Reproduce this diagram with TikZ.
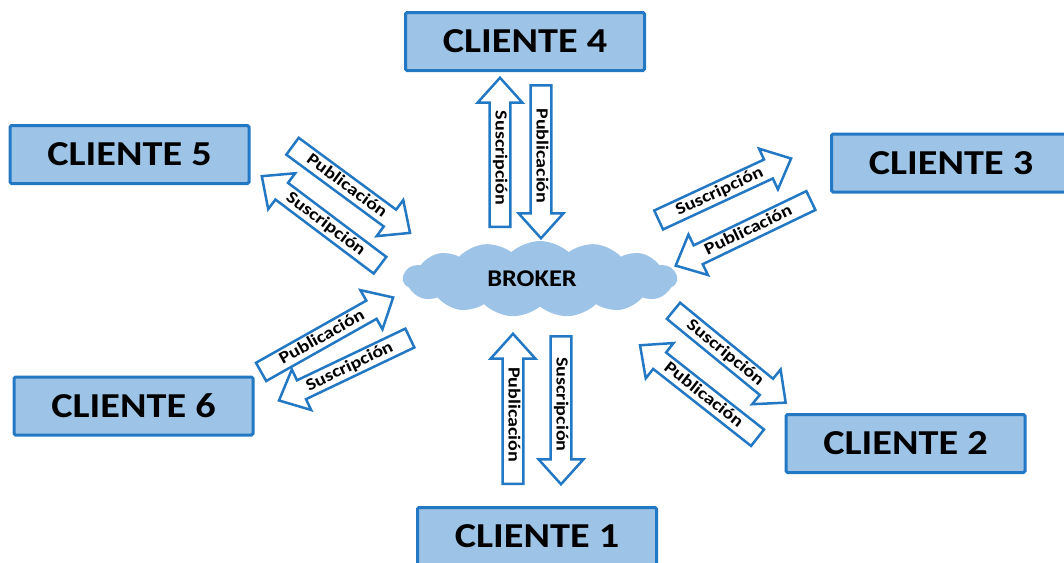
\documentclass[tikz,border=0pt]{standalone}
\usepackage{fontspec}
\setmainfont{Carlito}
\usetikzlibrary{shapes.arrows,shapes.symbols}
\definecolor{edgeblue}{HTML}{2378C4}
\definecolor{boxblue}{HTML}{9DC3E6}
\newcommand\wide[2]{\scalebox{#1}[1]{#2}}
\tikzset{
  client/.style={draw=edgeblue, fill=boxblue, line width=3pt,
    minimum width=239pt, minimum height=58pt, inner sep=0pt,
    rounded corners=1.5pt, font=\fontsize{35}{35}\selectfont\bfseries},
  flow/.style={single arrow, draw=edgeblue, fill=white, line width=2.5pt,
    single arrow head extend=12pt, single arrow tip angle=84,
    text height=12.5pt, text depth=3.5pt, inner ysep=1.2pt, inner xsep=2pt,
    anchor=tail, font=\fontsize{17}{17}\selectfont\bfseries},
  back/.style={shape border rotate=180},
}
\newcommand\pub{\wide{1.18}{Publicación}}
\newcommand\sus{\wide{1.18}{Suscripción}}
\begin{document}
\begin{tikzpicture}[x=1pt, y=-1pt]
  \useasboundingbox (0,0) rectangle (1064,562);

  % central broker
  \node[cloud, cloud puffs=15, cloud puff arc=85, aspect=3.6,
        fill=boxblue, minimum width=274pt, minimum height=76pt, inner sep=0pt,
        font=\fontsize{24}{24}\selectfont\bfseries]
        (broker) at (540,279) {\wide{1.1}{BROKER}\hspace*{16pt}};

  % clients
  \node[client] (c1) at (537,536.5) {\wide{1.15}{CLIENTE 1}};
  \node[client] (c2) at (905.5,443.5) {\wide{1.15}{CLIENTE 2}};
  \node[client] (c3) at (951,163) {\wide{1.15}{CLIENTE 3}};
  \node[client] (c4) at (525,41.5) {\wide{1.15}{CLIENTE 4}};
  \node[client] (c5) at (129.5,154.5) {\wide{1.15}{CLIENTE 5}};
  \node[client] (c6) at (133.5,406) {\wide{1.15}{CLIENTE 6}};

  % client 4 <-> broker
  \node[flow, back, rotate=-90, minimum height=149pt] (s4) at (500,228) {\sus};
  \node[flow, rotate=-90, minimum height=153pt] (p4) at (541,84) {\pub};

  % client 1 <-> broker
  \node[flow, back, rotate=-90, minimum height=150pt] (p1) at (513,485) {\pub};
  \node[flow, rotate=-90, minimum height=148pt] (s1) at (561,335) {\sus};

  % client 5 <-> broker
  \node[flow, rotate=-36.4, minimum height=146pt] (p5) at (291.5,145.5) {\pub};
  \node[flow, back, rotate=-37, minimum height=148pt] (s5) at (381,266) {\sus};

  % client 3 <-> broker
  \node[flow, rotate=24.9, minimum height=146pt] (s3) at (657.5,220.5) {\sus};
  \node[flow, back, rotate=25.7, minimum height=150pt] (p3) at (812,200) {\pub};

  % client 2 <-> broker
  \node[flow, rotate=-39.3, minimum height=145pt] (s2) at (672.5,310) {\sus};
  \node[flow, back, rotate=-38.2, minimum height=149.5pt] (p2) at (758.5,438.5) {\pub};

  % client 6 <-> broker
  \node[flow, rotate=29.4, minimum height=151.6pt] (p6) at (260,372.5) {\pub};
  \node[flow, back, rotate=25.5, minimum height=145pt] (s6) at (411,337.5) {\sus};
\end{tikzpicture}
\end{document}
